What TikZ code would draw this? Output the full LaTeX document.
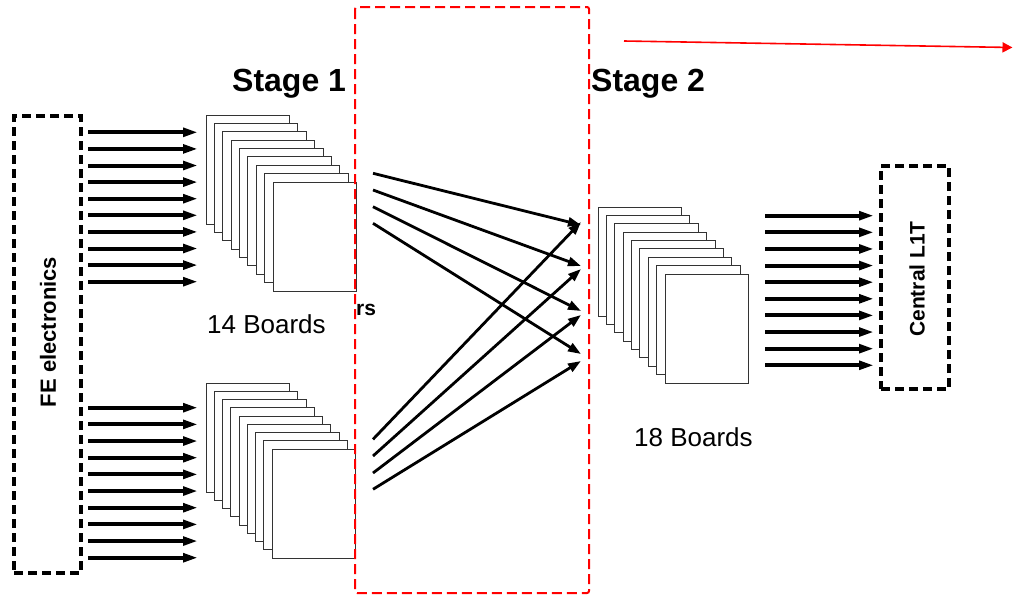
\documentclass[tikz,border=0pt]{standalone}
\usepackage{fontspec}
\setmainfont{Liberation Sans}
\usetikzlibrary{arrows.meta}
\begin{document}
\begin{tikzpicture}[x=1pt,y=-1pt,
  board/.style={draw=black!80, line width=1pt, fill=white,
    minimum width=83.5pt, minimum height=109pt, anchor=north west,
    inner sep=0pt, outer sep=0pt},
  bus/.style={line width=4pt, -{Triangle[length=15pt,width=8.5pt]}},
  link/.style={line width=2.8pt, -{Triangle[length=13pt,width=9pt]}},
  crate/.style={draw, line width=4pt, dash pattern=on 9pt off 5pt,
    inner sep=0pt, outer sep=0pt},
  title/.style={font=\fontsize{32}{38}\selectfont\bfseries, inner sep=0pt, anchor=base west},
  count/.style={font=\fontsize{26}{30}\selectfont, inner sep=0pt, anchor=base west},
  vlabel/.style={rotate=90, inner sep=0pt, font=\fontsize{22}{26}\selectfont\bfseries},
  marker/.style={draw=red, line width=2pt, dash pattern=on 10pt off 5pt, rounded corners=2pt},
  pointer/.style={draw=red, line width=1.6pt, -{Triangle[length=10pt,width=10pt]}}
]
\useasboundingbox (0,0) rectangle (1013,598);

% front-end and central trigger crates
\node[crate, minimum width=67pt, minimum height=457pt] (fe) at (47.5,344.5) {};
\node[vlabel] (felabel) at (48,332) {FE electronics};
\node[crate, minimum width=68pt, minimum height=223pt] (l1t) at (915,277.5) {};
\node[vlabel, font=\fontsize{21}{25}\selectfont\bfseries] (l1tlabel) at (917,279) {Central L1T};

% stage titles
\node[title] (st1) at (232,91.5) {Stage 1};
\node[title] (st2) at (591,91) {Stage 2};

% board stacks
\foreach \k in {0,...,8}
  \node[board] (up\k) at (206+8.375*\k, 115+8.375*\k) {};
\foreach \k in {0,...,8}
  \node[board] (lo\k) at (206+8.25*\k, 383+8.25*\k) {};
\foreach \k in {0,...,8}
  \node[board] (sb\k) at (598+8.375*\k, 207+8.375*\k) {};

\node[count] (c14) at (207,333) {14 Boards};
\node[count] (c18) at (634,446) {18 Boards};
\node[inner sep=0pt, anchor=base west, font=\fontsize{21}{25}\selectfont\bfseries] (tail) at (356,315) {rs};

% input buses into stage 1, output buses from stage 2
\foreach \i in {1,...,10} {
  \coordinate (ua\i) at (88,{132.3+16.6*(\i-1)});
  \coordinate (ub\i) at (198,{132.3+16.6*(\i-1)});
  \draw[bus] (ua\i) -- (ub\i);
  \coordinate (la\i) at (88,{407.7+16.67*(\i-1)});
  \coordinate (lb\i) at (198,{407.7+16.67*(\i-1)});
  \draw[bus] (la\i) -- (lb\i);
  \coordinate (oa\i) at (765,{215.7+16.62*(\i-1)});
  \coordinate (ob\i) at (874,{215.7+16.62*(\i-1)});
  \draw[bus] (oa\i) -- (ob\i);
}

% stage 1 to stage 2 links
\coordinate (d1) at (373,173.3); \coordinate (e1) at (581,225);
\coordinate (d2) at (373,190);   \coordinate (e2) at (581,266);
\coordinate (d3) at (373,206.7); \coordinate (e3) at (581,311);
\coordinate (d4) at (373,223.3); \coordinate (e4) at (581,354);
\coordinate (a1) at (373,439.3); \coordinate (b1) at (581,222);
\coordinate (a2) at (373,456);   \coordinate (b2) at (581,269);
\coordinate (a3) at (373,473);   \coordinate (b3) at (581,315);
\coordinate (a4) at (373,489.3); \coordinate (b4) at (581,361);
\foreach \j in {1,...,4} {
  \draw[link] (d\j) -- (e\j);
  \draw[link] (a\j) -- (b\j);
}

% highlight frame and pointer
\draw[marker] (355,7) rectangle (589,593);
\coordinate (p1) at (624,41);
\coordinate (p2) at (1012.5,47.5);
\draw[pointer] (p1) -- (p2);
\end{tikzpicture}
\end{document}
